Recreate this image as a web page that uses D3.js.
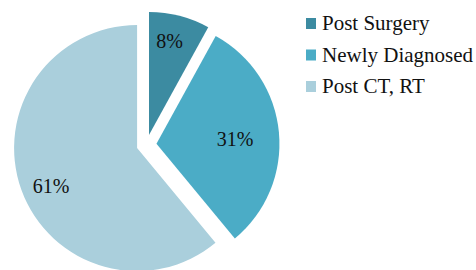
<!DOCTYPE html>
<html>
<head>
<meta charset="utf-8">
<script src="https://cdn.jsdelivr.net/npm/d3@7"></script>
</head>
<body style="margin:0">
<svg id="chart" width="476" height="270"></svg>
<script>
const categories = ["Post Surgery", "Newly Diagnosed", "Post CT, RT"];
const values     = [8, 31, 61];
const labels     = ["8%", "31%", "61%"];
const colors     = ["#3C8BA1", "#4BACC6", "#AACFDC"];

const cx = 146.5, cy = 144.7;
const radius  = 123;
// how far each slice is pulled out
const explode = 10;
// label distance (fraction of radius) and small angle nudge (degrees)
const labelPos   = [0.78, 0.64, 0.765];
const labelNudge = [-2, 2, -4];

const svg = d3.select("#chart");

const pie = d3.pie().sort(null).value(d => d);
const arcs = pie(values);
const arc = d3.arc().innerRadius(0).outerRadius(radius);

const slices = svg.append("g")
    .attr("transform", `translate(${cx},${cy})`)
  .selectAll("g")
  .data(arcs)
  .join("g")
    .attr("transform", d => {
      const a = (d.startAngle + d.endAngle) / 2;
      return `translate(${explode * Math.sin(a)},${-explode * Math.cos(a)})`;
    });

slices.append("path")
    .attr("d", arc)
    .attr("fill", d => colors[d.index]);

slices.append("text")
    .attr("x", d => {
      const a = (d.startAngle + d.endAngle) / 2 + labelNudge[d.index] * Math.PI / 180;
      return radius * labelPos[d.index] * Math.sin(a);
    })
    .attr("y", d => {
      const a = (d.startAngle + d.endAngle) / 2 + labelNudge[d.index] * Math.PI / 180;
      return -radius * labelPos[d.index] * Math.cos(a);
    })
    .attr("text-anchor", "middle")
    .attr("dy", "0.35em")
    .attr("font-size", 20)
    .attr("font-family", "Liberation Serif")
    .attr("fill", "#111")
    .text(d => labels[d.index]);

// legend
const legend = svg.append("g")
    .attr("transform", "translate(306,18)")
  .selectAll("g")
  .data(categories)
  .join("g")
    .attr("transform", (d, i) => `translate(0,${i * 31.5})`);

legend.append("rect")
    .attr("width", 10)
    .attr("height", 11)
    .attr("fill", (d, i) => colors[i]);

legend.append("text")
    .attr("x", 16)
    .attr("y", 12)
    .attr("font-size", 21)
    .attr("font-family", "Liberation Serif")
    .attr("fill", "#111")
    .text(d => d);
</script>
</body>
</html>
